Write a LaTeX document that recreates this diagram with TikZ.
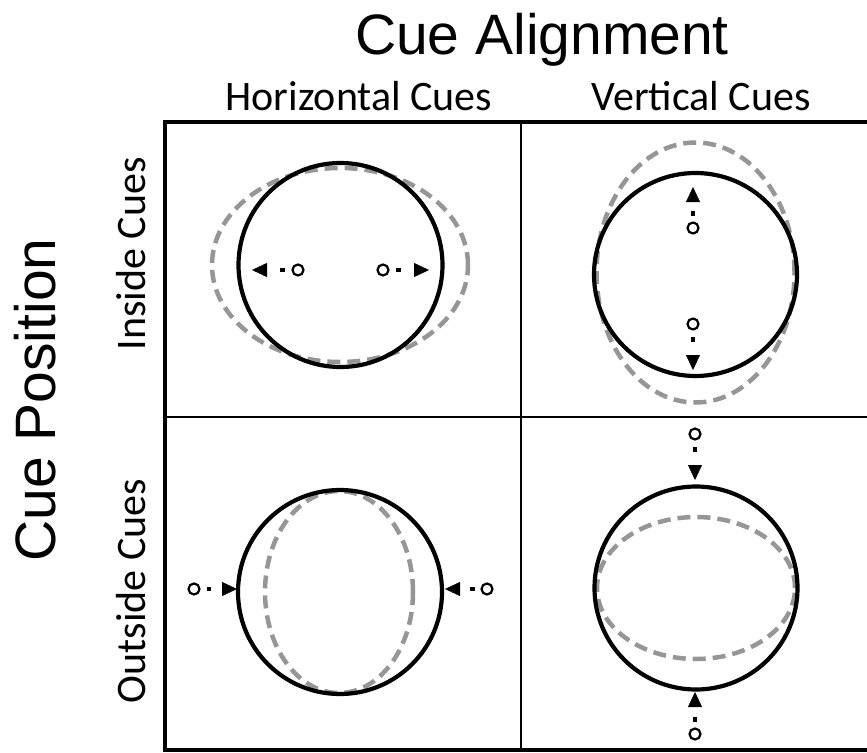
\documentclass[tikz,border=0pt]{standalone}
\usepackage{fontspec}
\setmainfont{Carlito}
\newfontfamily\titlefont{Liberation Sans}
\usetikzlibrary{arrows.meta}
\definecolor{dashgray}{RGB}{150,150,150}
\tikzset{
  frameline/.style={line width=4pt},
  gridline/.style={line width=2pt},
  bigcircle/.style={line width=4.2pt},
  shifted/.style={draw=dashgray, line width=4.5pt, dash pattern=on 13pt off 7pt},
  cue/.style={circle, draw, line width=2.2pt, minimum size=11pt, inner sep=0pt},
  cuedot/.style={rectangle, fill, minimum size=4.5pt, inner sep=0pt},
  cuelink/.style={dash pattern=on 0pt off 1000pt, -{Triangle[length=15pt,width=14pt]}},
  bigtitle/.style={font=\titlefont\fontsize{57}{60}\selectfont, anchor=base, inner sep=0pt},
  label/.style={font=\fontsize{42}{46}\selectfont, anchor=base, inner sep=0pt},
}
\begin{document}
\begin{tikzpicture}[x=1pt, y=-1pt]
\useasboundingbox (0,0) rectangle (867,752);
% titles
\node[bigtitle] (ta) at (542,55) {Cue Alignment};
\node[bigtitle, rotate=90] (tp) at (55,400) {Cue Position};
\node[label] (hc) at (359,110) {Horizontal Cues};
\node[label] (vc) at (701,110) {Vertical Cues};
\node[label, rotate=90] (ic) at (145,254) {Inside Cues};
\node[label, rotate=90] (oc) at (145,591) {Outside Cues};
% frame and grid
\draw[gridline] (521,122) -- (521,749);
\draw[gridline] (165,417) -- (880,417);
\draw[frameline] (880,122) -| (165,749.5) -- (880,749.5);
% cell 1: inside, horizontal
\draw[shifted] (340,265) ellipse [x radius=128pt, y radius=97pt];
\draw[bigcircle] (340.5,265) circle [radius=102pt];
\node[cue] (a1) at (298,270) {};
\coordinate (a1t) at (252,270);
\draw[cuelink] (a1) -- node[cuedot, pos=0.23] {} (a1t);
\node[cue] (a2) at (383,270) {};
\coordinate (a2t) at (429,270);
\draw[cuelink] (a2) -- node[cuedot, pos=0.23] {} (a2t);
% cell 2: inside, vertical
\draw[shifted] (695.5,272.5) ellipse [x radius=99pt, y radius=130pt];
\draw[bigcircle] (695.5,274.5) circle [radius=101.5pt];
\node[cue] (b1) at (693,228) {};
\coordinate (b1t) at (693,187);
\draw[cuelink] (b1) -- node[cuedot, pos=0.23] {} (b1t);
\node[cue] (b2) at (693,324) {};
\coordinate (b2t) at (693,370);
\draw[cuelink] (b2) -- node[cuedot, pos=0.23] {} (b2t);
% cell 3: outside, horizontal
\draw[shifted] (339,592) ellipse [x radius=74pt, y radius=101pt];
\draw[bigcircle] (340,592) circle [radius=102pt];
\node[cue] (c1) at (194,589) {};
\coordinate (c1t) at (237,589);
\draw[cuelink] (c1) -- node[cuedot, pos=0.23] {} (c1t);
\node[cue] (c2) at (487,589) {};
\coordinate (c2t) at (445,589);
\draw[cuelink] (c2) -- node[cuedot, pos=0.23] {} (c2t);
% cell 4: outside, vertical
\draw[shifted] (696,588) ellipse [x radius=99pt, y radius=71pt];
\draw[bigcircle] (696,588) circle [radius=101.5pt];
\node[cue] (d1) at (695,434) {};
\coordinate (d1t) at (695,480);
\draw[cuelink] (d1) -- node[cuedot, pos=0.23] {} (d1t);
\node[cue] (d2) at (695,734) {};
\coordinate (d2t) at (695,692);
\draw[cuelink] (d2) -- node[cuedot, pos=0.23] {} (d2t);
\end{tikzpicture}
\end{document}
